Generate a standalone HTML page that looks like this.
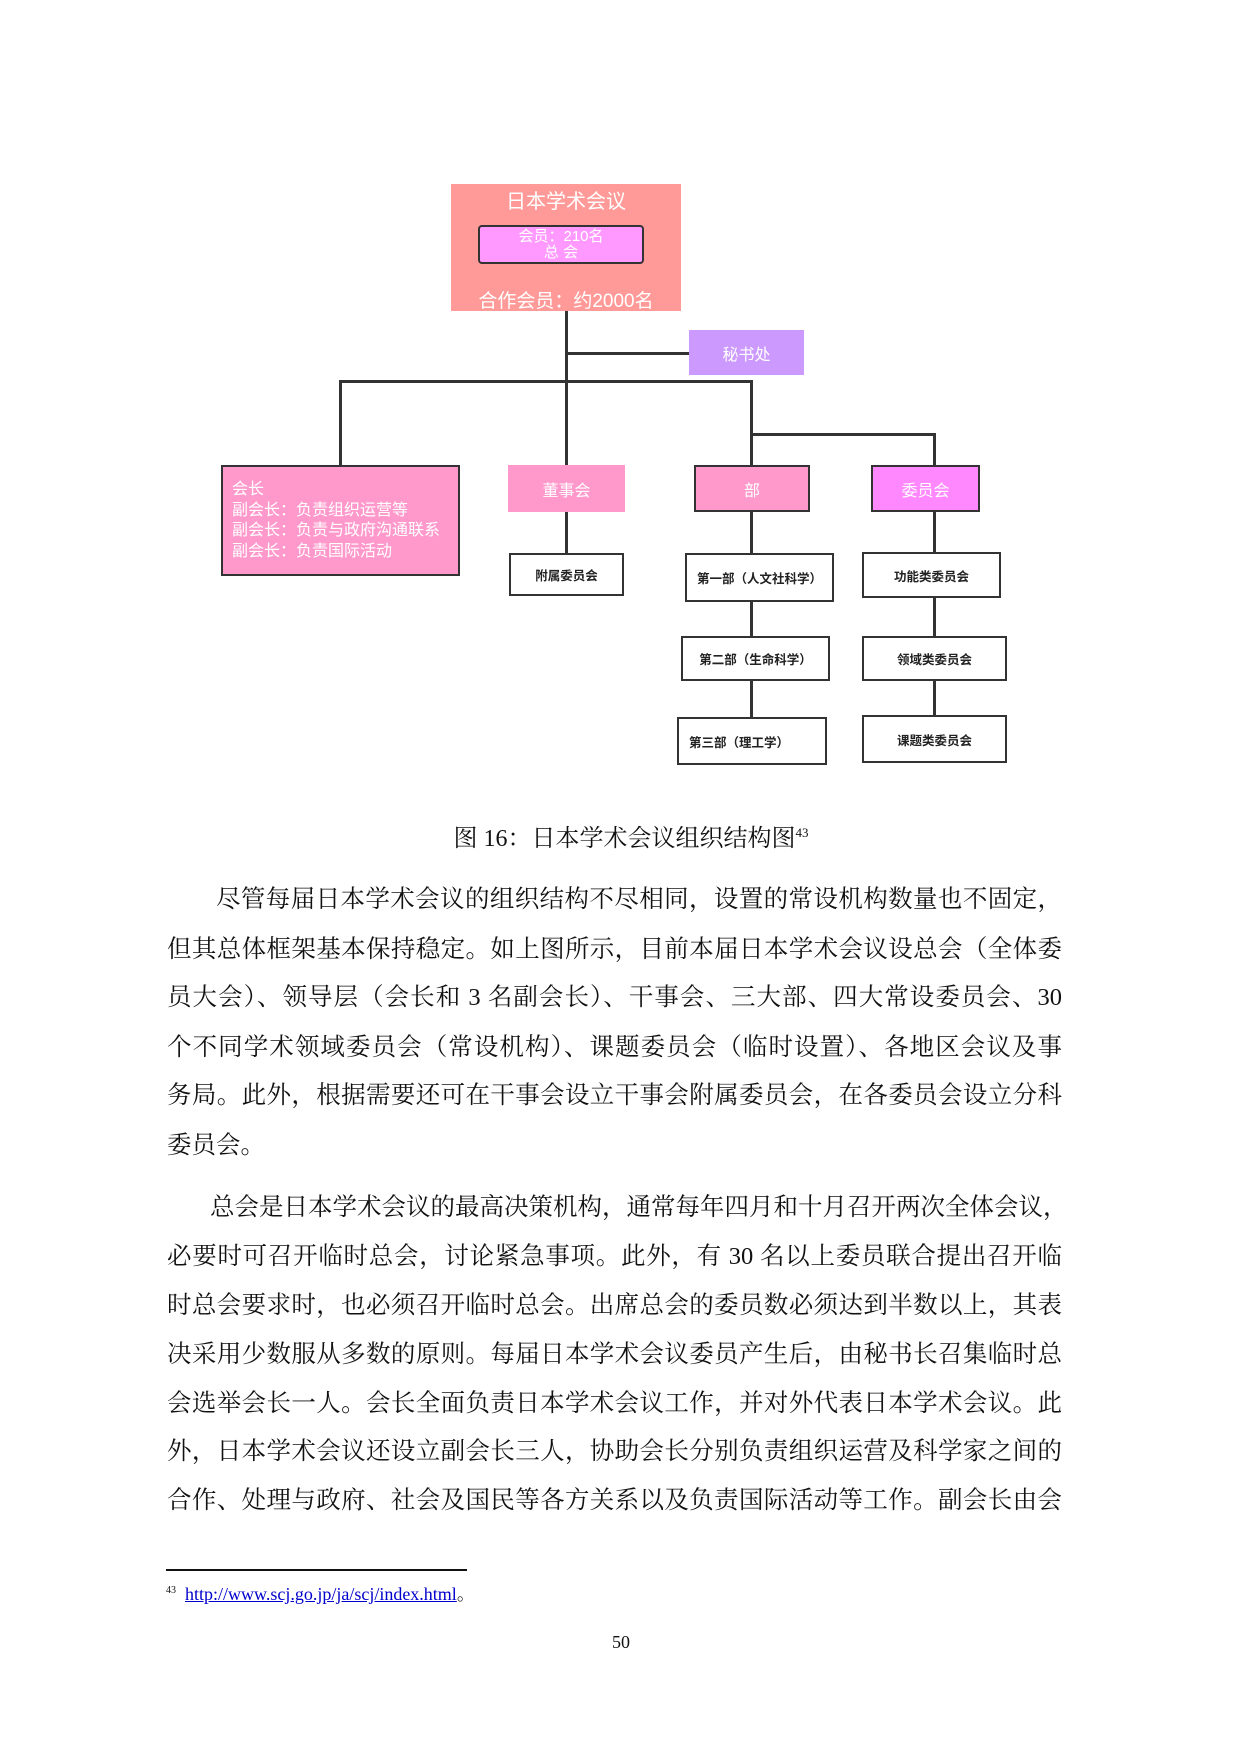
<!DOCTYPE html>
<html><head><meta charset="utf-8"><style>
body{margin:0;background:#fff;}
#p{position:relative;width:1240px;height:1753px;overflow:hidden;font-family:"Liberation Serif","Noto Serif CJK SC",serif;}
#d{position:absolute;left:-4px;top:0;width:1240px;height:800px;}
.a{position:absolute;box-sizing:border-box;}
.b{display:flex;align-items:center;justify-content:center;font-family:"Liberation Sans","Noto Sans CJK SC",sans-serif;color:#fff;}
.w{background:#fff;border:2.5px solid #333;color:#222;font-size:12.5px;font-weight:bold;}
.h{position:absolute;background:#333;height:3px;}
.v{position:absolute;background:#333;width:3px;}
.l{position:absolute;left:167px;width:895px;font-size:24.5px;line-height:30px;text-align:justify;text-align-last:justify;color:#111;white-space:nowrap;}
</style></head><body><div id="p">
<div id="d">
<div class="v" style="left:569px;top:311px;height:154px"></div>
<div class="h" style="left:569px;top:352px;width:124px"></div>
<div class="h" style="left:343px;top:380px;width:414px"></div>
<div class="v" style="left:343px;top:380px;height:85px"></div>
<div class="v" style="left:754px;top:380px;height:85px"></div>
<div class="h" style="left:754px;top:433px;width:186px"></div>
<div class="v" style="left:937px;top:433px;height:32px"></div>
<div class="v" style="left:569px;top:512px;height:42px"></div>
<div class="v" style="left:754px;top:512px;height:206px"></div>
<div class="v" style="left:937px;top:512px;height:204px"></div>
<div class="a" style="left:455px;top:184px;width:230px;height:127px;background:#ff9a98"></div>
<div class="a b" style="left:455px;top:186px;width:230px;height:26px;font-size:20px">日本学术会议</div>
<div class="a b" style="left:482px;top:225px;width:166px;height:39px;background:#ff99ff;border:2.5px solid #333;border-radius:4px;text-align:center;font-size:15px;line-height:16px">会员：210名<br>总 会</div>
<div class="a b" style="left:455px;top:286px;width:230px;height:26px;font-size:19px">合作会员：约2000名</div>
<div class="a b" style="left:693px;top:330px;width:115px;height:45px;background:#cc99ff;font-size:16px">秘书处</div>
<div class="a b" style="left:225px;top:465px;width:239px;height:111px;background:#ff99cc;border:2.5px solid #333;justify-content:flex-start;align-items:flex-start;padding:13px 0 0 9px;font-size:16px;line-height:20.5px;text-align:left">会长<br>副会长：负责组织运营等<br>副会长：负责与政府沟通联系<br>副会长：负责国际活动</div>
<div class="a b" style="left:512px;top:465px;width:117px;height:47px;background:#ff99cc;font-size:16px">董事会</div>
<div class="a b" style="left:698px;top:465px;width:116px;height:47px;background:#ff99cc;border:2.5px solid #333;font-size:16px">部</div>
<div class="a b" style="left:875px;top:465px;width:109px;height:47px;background:#ff88ff;border:2.5px solid #333;font-size:16px">委员会</div>
<div class="a b w" style="left:513px;top:553px;width:115px;height:43px">附属委员会</div>
<div class="a b w" style="left:689px;top:553px;width:149px;height:49px">第一部（人文社科学）</div>
<div class="a b w" style="left:685px;top:636px;width:149px;height:45px">第二部（生命科学）</div>
<div class="a b w" style="left:681px;top:717px;width:150px;height:48px;justify-content:flex-start;padding-left:10px">第三部（理工学）</div>
<div class="a b w" style="left:866px;top:552px;width:139px;height:46px">功能类委员会</div>
<div class="a b w" style="left:866px;top:636px;width:145px;height:45px">领域类委员会</div>
<div class="a b w" style="left:866px;top:715px;width:145px;height:48px">课题类委员会</div>
</div>
<div class="a" style="left:0;width:1262px;top:818px;text-align:center;font-size:24px;color:#111">图 16：日本学术会议组织结构图<sup style="font-size:13px">43</sup></div>
<div class="l" style="top:885px;left:216px;width:846px">尽管每届日本学术会议的组织结构不尽相同，设置的常设机构数量也不固定，</div>
<div class="l" style="top:935px">但其总体框架基本保持稳定。如上图所示，目前本届日本学术会议设总会（全体委</div>
<div class="l" style="top:983px">员大会）、领导层（会长和 3 名副会长）、干事会、三大部、四大常设委员会、30</div>
<div class="l" style="top:1033px">个不同学术领域委员会（常设机构）、课题委员会（临时设置）、各地区会议及事</div>
<div class="l" style="top:1081px">务局。此外，根据需要还可在干事会设立干事会附属委员会，在各委员会设立分科</div>
<div class="l" style="top:1131px;text-align-last:left">委员会。</div>
<div class="l" style="top:1193px;left:210px;width:852px">总会是日本学术会议的最高决策机构，通常每年四月和十月召开两次全体会议，</div>
<div class="l" style="top:1242px">必要时可召开临时总会，讨论紧急事项。此外，有 30 名以上委员联合提出召开临</div>
<div class="l" style="top:1291px">时总会要求时，也必须召开临时总会。出席总会的委员数必须达到半数以上，其表</div>
<div class="l" style="top:1340px">决采用少数服从多数的原则。每届日本学术会议委员产生后，由秘书长召集临时总</div>
<div class="l" style="top:1389px">会选举会长一人。会长全面负责日本学术会议工作，并对外代表日本学术会议。此</div>
<div class="l" style="top:1437px">外，日本学术会议还设立副会长三人，协助会长分别负责组织运营及科学家之间的</div>
<div class="l" style="top:1486px">合作、处理与政府、社会及国民等各方关系以及负责国际活动等工作。副会长由会</div>
<div class="a" style="left:166px;top:1569px;width:301px;height:2px;background:#111"></div>
<div class="a" style="left:166px;top:1580px;font-size:18px;white-space:nowrap;color:#111"><sup style="font-size:10px">43</sup>&nbsp; <span style="color:#00c;text-decoration:underline">http://www.scj.go.jp/ja/scj/index.html</span>。</div>
<div class="a" style="left:596px;width:50px;top:1632px;text-align:center;font-size:18px;color:#111">50</div>
</div></body></html>
